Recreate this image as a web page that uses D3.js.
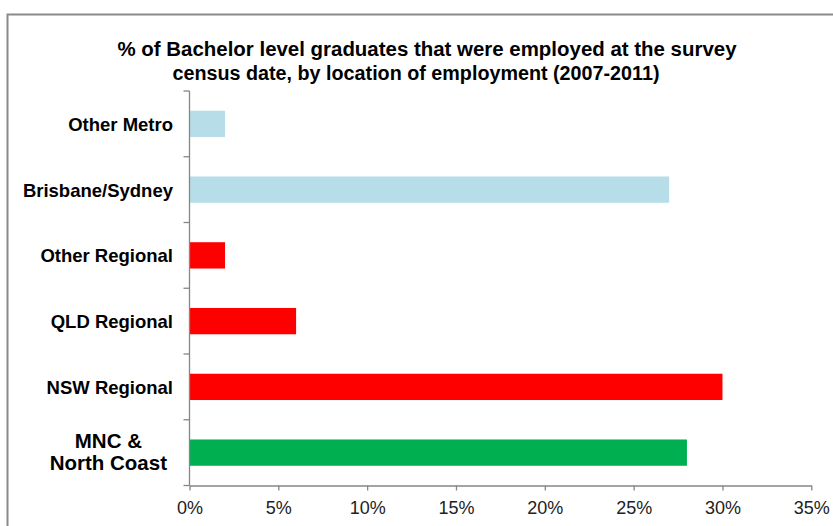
<!DOCTYPE html>
<html>
<head>
<meta charset="utf-8">
<script src="https://cdn.jsdelivr.net/npm/d3@7"></script>
<style>
  html, body { margin: 0; padding: 0; background: #fff; }
  svg { display: block; font-family: Arial, "Liberation Sans", Helvetica, sans-serif; }
</style>
</head>
<body>
<svg id="chart" width="833" height="526"></svg>
<script>
// Location of employment, top to bottom as shown
const categories = ["Other Metro", "Brisbane/Sydney", "Other Regional", "QLD Regional", "NSW Regional", "MNC &\nNorth Coast"];
// Share of Bachelor graduates employed at census date (%)
const values = [2, 27, 2, 6, 30, 28];
const barColors = ["#B7DEE8", "#B7DEE8", "#FF0000", "#FF0000", "#FF0000", "#00B050"];
const xTicks = [0, 5, 10, 15, 20, 25, 30, 35];
const titleLines = [
  "% of Bachelor level graduates that were employed at the survey",
  "census date, by location of employment (2007-2011)"
];

const svg = d3.select("#chart");
const axisColor = "#868686";

// outer frame
svg.append("rect")
  .attr("x", 7.5).attr("y", 14.5)
  .attr("width", 840).attr("height", 530)
  .attr("fill", "none")
  .attr("stroke", "#8a8a8a")
  .attr("stroke-width", 2);

// title
const titleX = [427, 416];
const titleW = [619, 487];
titleLines.forEach((t, i) => {
  svg.append("text")
    .attr("x", titleX[i])
    .attr("y", 56 + i * 24)
    .attr("text-anchor", "middle")
    .attr("font-size", 19.5)
    .attr("font-weight", "bold")
    .attr("fill", "#000")
    .attr("textLength", titleW[i])
    .attr("lengthAdjust", "spacingAndGlyphs")
    .text(t);
});

const x = d3.scaleLinear().domain([0, 35]).range([189.5, 811.3]);
const y = d3.scaleBand().domain(categories).range([91, 485.5])
  .paddingInner(0.6).paddingOuter(0.3);

// bars
svg.append("g").selectAll("rect")
  .data(categories)
  .join("rect")
  .attr("x", x(0))
  .attr("y", d => y(d))
  .attr("width", (d, i) => x(values[i]) - x(0))
  .attr("height", y.bandwidth())
  .attr("fill", (d, i) => barColors[i]);

// x axis
const xAxis = svg.append("g")
  .attr("transform", `translate(0,${485.5})`)
  .call(d3.axisBottom(x).tickValues(xTicks).tickSize(5).tickSizeOuter(0)
    .tickFormat(d => d + "%"));
xAxis.select(".domain").attr("stroke", axisColor).attr("stroke-width", 1.3);
xAxis.selectAll(".tick line").attr("stroke", axisColor).attr("stroke-width", 1.3);
xAxis.selectAll(".tick text")
  .attr("font-size", 18)
  .attr("fill", "#222")
  .attr("font-family", "Arial, 'Liberation Sans', sans-serif")
  .attr("dy", null)
  .attr("y", 28);

// y axis line and band-boundary ticks
const y0 = y.range()[0], y1 = y.range()[1];
svg.append("line")
  .attr("x1", x(0)).attr("x2", x(0))
  .attr("y1", y0).attr("y2", y1)
  .attr("stroke", axisColor).attr("stroke-width", 1.3);
const bounds = d3.range(categories.length + 1).map(i => y0 + i * y.step());
svg.append("g").selectAll("line")
  .data(bounds)
  .join("line")
  .attr("x1", x(0) - 6).attr("x2", x(0))
  .attr("y1", d => d).attr("y2", d => d)
  .attr("stroke", axisColor).attr("stroke-width", 1.3);

// category labels
const labelRight = 173;
categories.forEach(c => {
  const lines = c.split("\n");
  const cy = y(c) + y.bandwidth() / 2;
  if (lines.length === 1) {
    svg.append("text")
      .attr("x", labelRight)
      .attr("y", cy + 7)
      .attr("text-anchor", "end")
      .attr("font-size", 18.5)
      .attr("font-weight", "bold")
      .attr("fill", "#000")
      .text(c);
  } else {
    const g = svg.append("g");
    const texts = lines.map((l, j) => g.append("text")
      .attr("y", cy - 4.5 + j * 22)
      .attr("text-anchor", "middle")
      .attr("font-size", 20.5)
      .attr("font-weight", "bold")
      .attr("fill", "#000")
      .text(l));
    const maxW = d3.max(texts, t => t.node().getComputedTextLength());
    texts.forEach(t => t.attr("x", labelRight - 6 - maxW / 2));
  }
});
</script>
</body>
</html>
